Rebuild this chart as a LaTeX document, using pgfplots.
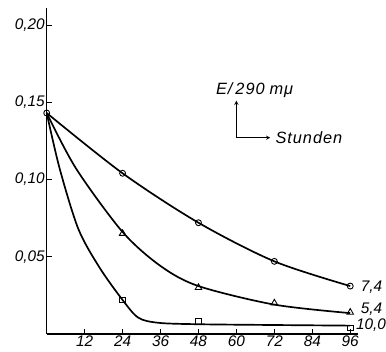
\documentclass[border=0pt]{standalone}
\usepackage{fontspec}
\setsansfont{Liberation Sans}
\usepackage{pgfplots}
\pgfplotsset{compat=1.18}
\newcommand{\lbl}{\fontsize{15.5}{15.5}\selectfont\sffamily\itshape}
\newcommand{\lbs}{\fontsize{16.5}{16.5}\selectfont\sffamily\itshape\addfontfeature{LetterSpace=6}}
\begin{document}
\begin{tikzpicture}[x=1bp,y=1bp]
\begin{axis}[
  scale only axis,
  width=313bp, height=328bp,
  xmin=0, xmax=98.4, ymin=0, ymax=0.211,
  axis lines=left,
  axis line style={-, line width=1.1pt},
  xtick={12,24,36,48,60,72,84,96},
  xticklabels={12,24,36,48,60,72,84,96},
  ytick={0.05,0.10,0.15,0.20},
  yticklabels={{0,05},{0,10},{0,15},{0,20}},
  major tick length=5bp,
  tick style={line width=0.8pt, black},
  tick align=inside,
  tick label style={font=\lbl},
  yticklabel style={xshift=1.5bp},
  xticklabel style={yshift=2bp},
  clip=false,
]
% fitted curves
\addplot[black, line width=1.7pt, smooth] coordinates {(0,0.143) (24,0.104) (48,0.072) (72,0.047) (96,0.031)};
\addplot[black, line width=1.7pt, smooth] coordinates {(0,0.143) (9.3,0.107) (24,0.066) (36,0.044) (48,0.031) (72,0.019) (96,0.0135)};
\addplot[black, line width=1.7pt, smooth] coordinates {(0,0.143) (4.1,0.107) (10,0.068) (16.7,0.043) (24,0.022) (29,0.0105) (35.5,0.0072) (48,0.0063) (72,0.0058) (96,0.0054)};
% measured points
\addplot[only marks, mark=o, mark size=3pt, mark options={line width=0.9pt, fill=white}] coordinates {(0,0.143) (24,0.104) (48,0.072) (72,0.047) (96,0.031)};
\addplot[only marks, mark=triangle, mark size=3.8pt, mark options={line width=0.9pt, fill=white}] coordinates {(24,0.065) (48,0.030) (72,0.020) (96,0.014)};
\addplot[only marks, mark=square, mark size=2.8pt, mark options={line width=0.9pt, fill=white}] coordinates {(24,0.022) (48,0.008) (96,0.004)};
% labels
\node[anchor=west, font=\lbl, inner sep=0pt] at (axis cs:99.3,0.030) {7,4};
\node[anchor=west, font=\lbl, inner sep=0pt] at (axis cs:99.3,0.016) {5,4};
\node[anchor=west, font=\lbl, inner sep=0pt] at (axis cs:97.8,0.0055) {10,0};
\node[anchor=west, font=\lbs, inner sep=0pt] at (axis cs:53.5,0.158) {E/\hspace{3bp}290\hspace{5bp}mμ};
\draw[line width=0.9pt, -stealth] (axis cs:60,0.127) -- (axis cs:60,0.151);
\draw[line width=0.9pt, -stealth] (axis cs:60,0.127) -- (axis cs:70.7,0.127);
\node[anchor=west, font=\lbs, inner sep=0pt] at (axis cs:72.3,0.127) {Stunden};
\path (rel axis cs:0,0) ++(-47bp,-17.3bp) coordinate (bl);
\path (rel axis cs:1,1) ++(26bp,8bp) coordinate (tr);
\end{axis}
\useasboundingbox (bl) rectangle (tr);
\end{tikzpicture}
\end{document}
